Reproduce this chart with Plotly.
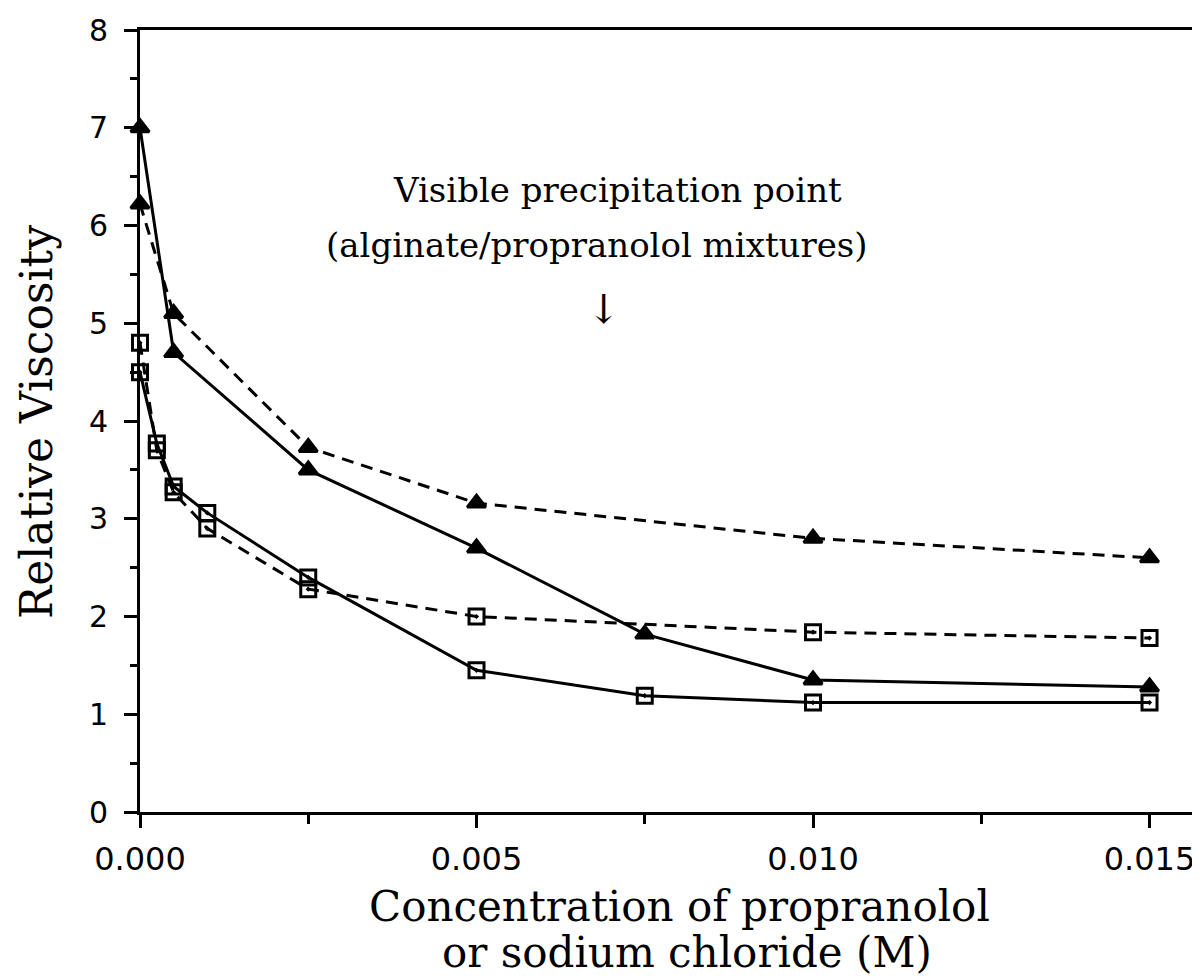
import plotly.graph_objects as go

# Data
x_tri_solid = [0.0, 0.0005, 0.0025, 0.005, 0.0075, 0.010, 0.015]
y_tri_solid = [7.0, 4.70, 3.50, 2.70, 1.82, 1.35, 1.28]

x_tri_dash = [0.0, 0.0005, 0.0025, 0.005, 0.010, 0.015]
y_tri_dash = [6.22, 5.10, 3.73, 3.16, 2.80, 2.60]

x_sq_solid = [0.0, 0.00025, 0.0005, 0.001, 0.0025, 0.005, 0.0075, 0.010, 0.015]
y_sq_solid = [4.50, 3.77, 3.33, 3.06, 2.40, 1.45, 1.19, 1.12, 1.12]

x_sq_dash = [0.0, 0.00025, 0.0005, 0.001, 0.0025, 0.005, 0.010, 0.015]
y_sq_dash = [4.80, 3.70, 3.27, 2.90, 2.28, 2.00, 1.84, 1.78]

x_tick_vals = [0.0, 0.005, 0.010, 0.015]
x_tick_text = ["0.000", "0.005", "0.010", "0.015"]
y_tick_vals = [0, 1, 2, 3, 4, 5, 6, 7, 8]

note_lines = ["Visible precipitation point", "(alginate/propranolol mixtures)"]
x_title_lines = ["Concentration of propranolol", "or sodium chloride (M)"]
y_title = "Relative Viscosity"

fig = go.Figure()

def add(xs, ys, dash, symbol, size):
    fig.add_trace(go.Scatter(
        x=xs, y=ys, mode="lines+markers",
        line=dict(color="black", width=3, dash=dash),
        marker=dict(symbol=symbol, size=size, color="black",
                    line=dict(color="black", width=3)),
        cliponaxis=False, showlegend=False,
    ))

add(x_tri_dash, y_tri_dash, "12px,8px", "triangle-up", 16)
add(x_tri_solid, y_tri_solid, "solid", "triangle-up", 16)
add(x_sq_dash, y_sq_dash, "12px,8px", "square-open-dot", 15)
add(x_sq_solid, y_sq_solid, "solid", "square-open-dot", 15)

serif = "DejaVu Serif"
sans = "DejaVu Sans"

# plot area on screen: x 140 -> 1200, y 30 -> 812
def paper_y(screen_y):
    return (812 - screen_y) / (812 - 30)

def paper_x(screen_x):
    return (screen_x - 140) / (1200 - 140)

def note(sx, sy, text, size, angle=0):
    fig.add_annotation(x=paper_x(sx), y=paper_y(sy), xref="paper", yref="paper",
                       xanchor="center", yanchor="middle", textangle=angle,
                       text=text, showarrow=False,
                       font=dict(family=serif, size=size, color="black"))

note(617, 190, note_lines[0], 34)
note(597, 245, note_lines[1], 34)
fig.add_annotation(x=0.0069, y=5.15, xref="x", yref="y", text="↓",
                   xanchor="center", yanchor="middle",
                   showarrow=False, font=dict(family=serif, size=40, color="black"))

note(679, 907, x_title_lines[0], 42)
note(687, 952, x_title_lines[1], 42)
note(36, 422, y_title, 44, angle=-90)

fig.update_layout(
    width=1192, height=972,
    margin=dict(l=132, r=0, t=22, b=168),
    paper_bgcolor="white", plot_bgcolor="white",
    xaxis=dict(
        range=[0, 0.01575], tickvals=x_tick_vals, ticktext=x_tick_text,
        showgrid=False, zeroline=False,
        showline=True, linecolor="black", linewidth=3, mirror=True,
        ticks="outside", ticklen=13, tickwidth=3, tickcolor="black",
        minor=dict(dtick=0.0025, ticks="outside", ticklen=9, tickwidth=2.5, tickcolor="black"),
        tickfont=dict(family=sans, size=32, color="black"),
        ticklabelstandoff=4,
    ),
    yaxis=dict(
        range=[0, 8], tickvals=y_tick_vals,
        showgrid=False, zeroline=False,
        showline=True, linecolor="black", linewidth=3,
        ticks="outside", ticklen=13, tickwidth=3, tickcolor="black",
        minor=dict(dtick=0.5, ticks="outside", ticklen=7, tickwidth=2.5, tickcolor="black"),
        tickfont=dict(family=sans, size=30, color="black"),
        ticklabelstandoff=10,
    ),
)

fig.write_html("out.html")
